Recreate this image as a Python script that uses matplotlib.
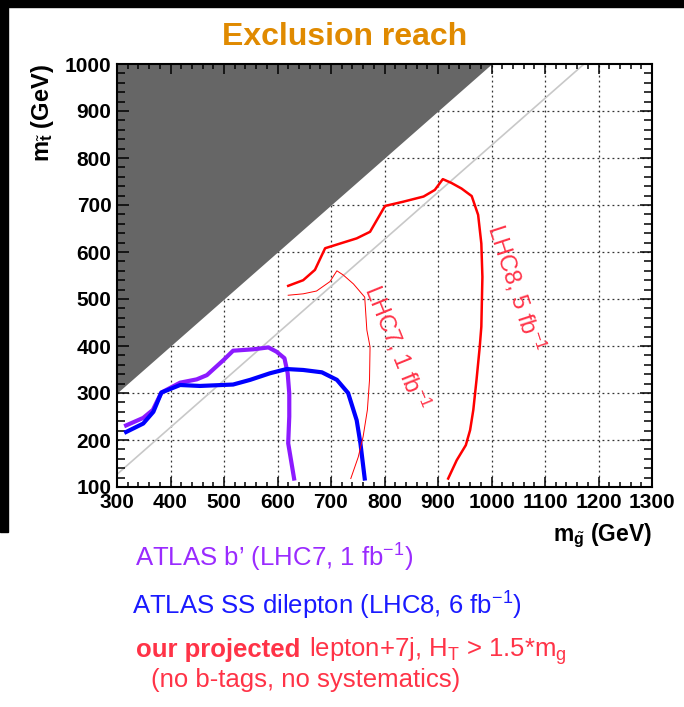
import matplotlib
matplotlib.use('Agg')
import matplotlib.pyplot as plt
from matplotlib.patches import Rectangle
from matplotlib.ticker import MultipleLocator

plt.rcParams['font.family'] = ['Liberation Sans', 'DejaVu Sans']
plt.rcParams['mathtext.fontset'] = 'custom'
plt.rcParams['mathtext.rm'] = 'Liberation Sans'
plt.rcParams['mathtext.it'] = 'Liberation Sans:italic'
plt.rcParams['mathtext.bf'] = 'Liberation Sans:bold'

# Data
x_ticks = [300, 400, 500, 600, 700, 800, 900, 1000, 1100, 1200, 1300]
y_ticks = [100, 200, 300, 400, 500, 600, 700, 800, 900, 1000]

# kinematically forbidden region: m_stop > m_gluino
forbid_x = [300, 1000]
# m_stop = m_gluino - m_top
diag_x = [300, 1173]
m_top = 173

bprime_x = [317, 349, 367, 383, 418, 449, 468, 499, 517, 555, 583, 598, 613, 619, 622, 622, 620, 631]
bprime_y = [231, 247, 264, 301, 322, 329, 338, 370, 390, 393, 397, 388, 374, 342, 299, 250, 193, 118]

ssdil_x = [317, 349, 368, 383, 418, 455, 517, 549, 586, 617, 648, 683, 711, 732, 748, 755, 763]
ssdil_y = [217, 235, 260, 301, 317, 315, 318, 328, 342, 351, 349, 344, 328, 300, 242, 193, 118]

lhc8_x = [620, 648, 670, 689, 717, 748, 773, 801, 835, 873, 894, 909, 925, 944, 963, 975, 981, 983,
          981, 978, 972, 966, 960, 952, 935, 919]
lhc8_y = [528, 540, 562, 608, 618, 629, 643, 698, 707, 718, 732, 755, 747, 735, 719, 679, 618, 547,
          441, 398, 328, 264, 221, 189, 157, 118]

lhc7_x = [620, 648, 673, 698, 711, 723, 742, 763, 767, 773, 772, 768, 760, 751, 737]
lhc7_y = [508, 511, 517, 537, 560, 551, 532, 504, 434, 398, 328, 264, 207, 164, 118]

fig = plt.figure(figsize=(6.84, 7.07), dpi=100)
W, H = 684.0, 707.0

# black borders of the slide screenshot
fig.patches.append(Rectangle((0, 1 - 7 / H), 1, 7 / H, transform=fig.transFigure,
                             color='black', zorder=0))
fig.patches.append(Rectangle((0, 1 - 532 / H), 8 / W, 532 / H, transform=fig.transFigure,
                             color='black', zorder=0))

ax = fig.add_axes([117 / W, 1 - 487 / H, 535 / W, 423 / H])
ax.set_xlim(300, 1300)
ax.set_ylim(100, 1000)

# dotted grid under the shaded region
for gx in x_ticks[1:-1]:
    ax.axvline(gx, color='#333333', lw=0.9, ls=(0, (1.5, 2.5)), zorder=0.8)
for gy in y_ticks[1:-1]:
    ax.axhline(gy, color='#333333', lw=0.9, ls=(0, (1.5, 2.5)), zorder=0.8)

ax.fill_between(forbid_x, forbid_x, 1000, color='#666666', lw=0, zorder=1)
ax.plot(diag_x, [v - m_top for v in diag_x], color='#c8c8c8', lw=1.2, zorder=1.5)

ax.plot(bprime_x, bprime_y, color='#8c1aff', lw=3, zorder=2, solid_joinstyle='round')
ax.plot(ssdil_x, ssdil_y, color='#0000ff', lw=3, zorder=2, solid_joinstyle='round')
ax.plot(lhc8_x, lhc8_y, color='#ff0000', lw=1.8, zorder=2)
ax.plot(lhc7_x, lhc7_y, color='#ff0000', lw=0.7, zorder=2)

ax.text(1046, 523, 'LHC8, 5 fb$^{-1}$', rotation=-72, color='#ff3348', fontsize=17,
        ha='center', va='center', rotation_mode='anchor')
ax.text(823, 396, 'LHC7, 1 fb$^{-1}$', rotation=-68, color='#ff3348', fontsize=17,
        ha='center', va='center', rotation_mode='anchor')

ax.set_xticks(x_ticks)
ax.set_yticks(y_ticks)
ax.xaxis.set_minor_locator(MultipleLocator(20))
ax.yaxis.set_minor_locator(MultipleLocator(20))
ax.tick_params(which='both', direction='in', top=True, right=True, width=1.1)
ax.tick_params(axis='x', which='major', length=7, pad=4)
ax.tick_params(axis='x', which='minor', length=3.6)
ax.tick_params(axis='y', which='major', length=8.6, pad=4)
ax.tick_params(axis='y', which='minor', length=5.8)
for lab in ax.get_xticklabels() + ax.get_yticklabels():
    lab.set_fontweight('bold')
    lab.set_fontsize(15)
for s in ax.spines.values():
    s.set_linewidth(1.5)

ax.set_ylabel(r'm$_{\tilde{\mathbf{t}}}$ (GeV)', fontsize=17, fontweight='bold', loc='top')
ax.yaxis.set_label_coords(-(117 - 56) / 535, 1)
ax.set_xlabel(r'm$_{\tilde{\mathbf{g}}}$ (GeV)', fontsize=16.5, fontweight='bold', loc='right')
ax.xaxis.set_label_coords(1, -(522 - 487) / 423)

fig.text(345 / W, 1 - 37 / H, 'Exclusion reach', color='#e08a00', fontsize=23,
         fontweight='bold', ha='center', va='center')

# legend-like captions below the plot
fig.text(135 / W, 1 - 567 / H, 'ATLAS b\u2019 (LHC7, 1 fb$^{-1}$)', color='#9a2bff',
         fontsize=18.5, va='baseline')
fig.text(132 / W, 1 - 615 / H, 'ATLAS SS dilepton (LHC8, 6 fb$^{-1}$)', color='#1a1aff',
         fontsize=18.5, va='baseline')
fig.text(136 / W, 1 - 657 / H, 'our projected', color='#ff3347', fontsize=18.5,
         fontweight='bold', va='baseline')
fig.text(309 / W, 1 - 657 / H, r'lepton+7j, H$_\mathrm{T}$ > 1.5*m$_\mathrm{g}$',
         color='#ff3347', fontsize=18.5, va='baseline')
fig.text(151 / W, 1 - 687 / H, '(no b-tags, no systematics)', color='#ff3347',
         fontsize=18.5, va='baseline')

fig.savefig('out.png', dpi=100)
